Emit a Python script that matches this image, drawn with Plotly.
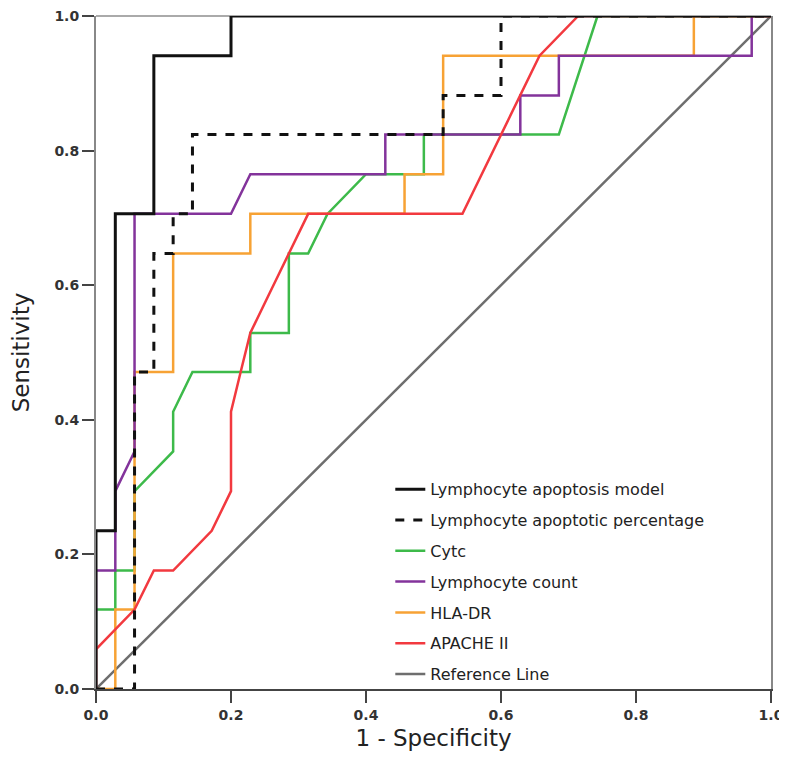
import plotly.graph_objects as go

# ROC curve vertices (1 - specificity, sensitivity)
model_x = [0, 0, 0.0286, 0.0286, 0.0857, 0.0857, 0.2, 0.2, 1.0]
model_y = [0, 0.235, 0.235, 0.706, 0.706, 0.941, 0.941, 1.0, 1.0]

pct_x = [0, 0.0571, 0.0571, 0.0857, 0.0857, 0.1143, 0.1143, 0.1429, 0.1429, 0.5143, 0.5143, 0.6, 0.6, 1.0]
pct_y = [0, 0, 0.471, 0.471, 0.647, 0.647, 0.706, 0.706, 0.824, 0.824, 0.882, 0.882, 1.0, 1.0]

cytc_x = [0, 0, 0.0286, 0.0286, 0.0571, 0.0571, 0.1143, 0.1143, 0.1429, 0.2286, 0.2286, 0.2857, 0.2857,
          0.3143, 0.3429, 0.4, 0.4857, 0.4857, 0.6857, 0.7429, 1.0]
cytc_y = [0, 0.118, 0.118, 0.176, 0.176, 0.294, 0.353, 0.412, 0.471, 0.471, 0.529, 0.529, 0.647,
          0.647, 0.706, 0.765, 0.765, 0.824, 0.824, 1.0, 1.0]

count_x = [0, 0, 0.0286, 0.0286, 0.0571, 0.0571, 0.2, 0.2286, 0.4286, 0.4286, 0.6286, 0.6286,
           0.6857, 0.6857, 0.9714, 0.9714, 1.0]
count_y = [0, 0.176, 0.176, 0.294, 0.353, 0.706, 0.706, 0.765, 0.765, 0.824, 0.824, 0.882,
           0.882, 0.941, 0.941, 1.0, 1.0]

hla_x = [0, 0.0286, 0.0286, 0.0571, 0.0571, 0.1143, 0.1143, 0.2286, 0.2286, 0.4571, 0.4571,
         0.5143, 0.5143, 0.8857, 0.8857, 1.0]
hla_y = [0, 0, 0.118, 0.118, 0.471, 0.471, 0.647, 0.647, 0.706, 0.706, 0.765, 0.765, 0.941,
         0.941, 1.0, 1.0]

apache_x = [0, 0, 0.0571, 0.0857, 0.1143, 0.1714, 0.2, 0.2, 0.2143, 0.2286, 0.2571, 0.2857, 0.3143,
            0.5429, 0.5714, 0.6, 0.6286, 0.6571, 0.7143, 1.0]
apache_y = [0, 0.059, 0.118, 0.176, 0.176, 0.235, 0.294, 0.412, 0.471, 0.529, 0.588, 0.647, 0.706,
            0.706, 0.765, 0.824, 0.882, 0.941, 1.0, 1.0]

ref_x = [0, 1]
ref_y = [0, 1]

series = [
    # name, x, y, color, dash, width, legend rank
    ("Reference Line", ref_x, ref_y, "#6e6e6e", "solid", 2.5, 7),
    ("Cytc", cytc_x, cytc_y, "#3dba4a", "solid", 2.5, 3),
    ("HLA-DR", hla_x, hla_y, "#f7a234", "solid", 2.5, 5),
    ("Lymphocyte count", count_x, count_y, "#83339b", "solid", 2.5, 4),
    ("APACHE II", apache_x, apache_y, "#f2393f", "solid", 2.5, 6),
    ("Lymphocyte apoptotic percentage", pct_x, pct_y, "#111111", "dash", 3, 2),
    ("Lymphocyte apoptosis model", model_x, model_y, "#111111", "solid", 3, 1),
]

fig = go.Figure()
for name, xs, ys, col, dash, w, rank in series:
    fig.add_trace(go.Scatter(x=xs, y=ys, mode="lines", name=name, legendrank=rank,
                             legendgroup=name,
                             line=dict(color=col, width=w, dash=dash)))

tick_vals = [0, 0.2, 0.4, 0.6, 0.8, 1.0]
tick_text = ["0.0", "0.2", "0.4", "0.6", "0.8", "1.0"]
tfont = dict(size=14, family="DejaVu Sans", weight="bold", color="#333")

fig.update_layout(
    width=787, height=780,
    margin=dict(l=88, r=24, t=8, b=99),
    plot_bgcolor="white", paper_bgcolor="white",
    font=dict(family="DejaVu Sans, sans-serif", color="#222"),
    showlegend=True,
    legend=dict(x=0.436, y=0.322, xanchor="left", yanchor="top",
                bgcolor="rgba(0,0,0,0)", font=dict(size=16, color="#222"),
                tracegroupgap=7),
    xaxis=dict(range=[0, 1], tickvals=tick_vals, ticktext=tick_text, automargin=False,
               ticklabeloverflow="allow",
               showgrid=False, zeroline=False, showline=True, linecolor="#444", linewidth=2,
               ticks="outside", ticklen=12, tickwidth=2, tickcolor="#444", tickfont=tfont,
               title=dict(text="1 - Specificity", font=dict(size=23, color="#222"), standoff=8)),
    yaxis=dict(range=[0, 1], tickvals=tick_vals, ticktext=tick_text, automargin=False,
               ticklabeloverflow="allow",
               showgrid=False, zeroline=False, showline=True, linecolor="#888", linewidth=2,
               mirror=True,
               ticks="outside", ticklen=12, tickwidth=2, tickcolor="#444", tickfont=tfont,
               title=dict(text="Sensitivity", font=dict(size=23, color="#222"), standoff=32)),
)

# light top border
fig.add_shape(type="line", xref="paper", yref="paper", x0=0, x1=1, y0=1, y1=1,
              line=dict(color="#aaaaaa", width=2), layer="below")

fig.write_html("out.html")
